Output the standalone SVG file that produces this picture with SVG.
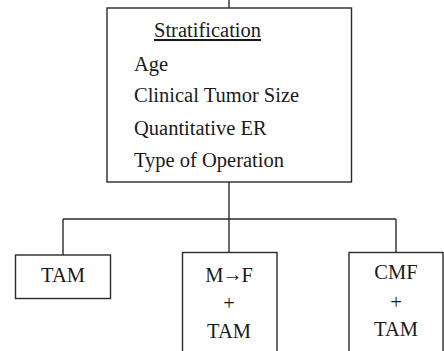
<svg xmlns="http://www.w3.org/2000/svg" width="444" height="351" viewBox="0 0 444 351">
<style>
.box{fill:#fff;stroke:#2a2a2a;stroke-width:1.4}
.ln{stroke:#2a2a2a;stroke-width:1.4;fill:none}
text{font-family:"Liberation Serif","Times New Roman",serif;font-size:20.5px;fill:#1a1a1a}
.c{text-anchor:middle}
</style>
<rect width="444" height="351" fill="#fff"/>
<g id="connectors">
<line class="ln" x1="229" y1="0" x2="229" y2="8"/>
<line class="ln" x1="229" y1="182" x2="229" y2="219"/>
<line class="ln" x1="63" y1="219" x2="396" y2="219"/>
<line class="ln" x1="63" y1="219" x2="63" y2="255"/>
<line class="ln" x1="229" y1="219" x2="229" y2="252.5"/>
<line class="ln" x1="396" y1="219" x2="396" y2="252.5"/>
</g>
<g id="stratification">
<rect class="box" x="107" y="8" width="244.5" height="174"/>
<text x="154" y="37" text-decoration="underline">Stratification</text>
<text x="134" y="71">Age</text>
<text x="134" y="102">Clinical Tumor Size</text>
<text x="134" y="135">Quantitative ER</text>
<text x="134" y="166.5">Type of Operation</text>
</g>
<g id="tam">
<rect class="box" x="15.5" y="255" width="95" height="43.5"/>
<text class="c" x="63" y="281.5">TAM</text>
</g>
<g id="mf-tam">
<rect class="box" x="182.5" y="252.5" width="94.5" height="110"/>
<text class="c" x="229" y="282">M<tspan font-size="20" dx="-1" dy="-1">→</tspan><tspan dx="-1" dy="1">F</tspan></text>
<text class="c" x="229" y="310">+</text>
<text class="c" x="229" y="337.5">TAM</text>
</g>
<g id="cmf-tam">
<rect class="box" x="349" y="252.5" width="94" height="110"/>
<text class="c" x="396" y="279">CMF</text>
<text class="c" x="396" y="309">+</text>
<text class="c" x="396" y="336">TAM</text>
</g>
</svg>
